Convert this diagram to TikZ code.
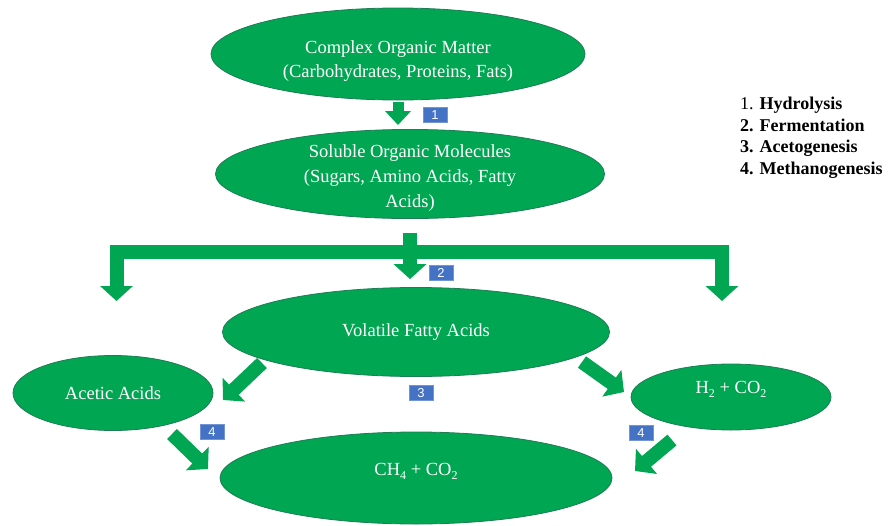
\documentclass[tikz,border=0pt]{standalone}
\usepackage{fontspec}
\setmainfont{Liberation Serif}
\newfontfamily\tagfont{Liberation Sans}
\usetikzlibrary{arrows.meta,shapes.geometric}

\definecolor{leafgreen}{RGB}{0,166,81}
\definecolor{leafedge}{RGB}{30,125,85}
\definecolor{tagblue}{RGB}{68,114,196}

\newcommand{\chemsub}[1]{\raisebox{-4pt}{\fontsize{12}{12}\selectfont #1}}

\tikzset{
  blob/.style={ellipse, fill=leafgreen, draw=leafedge, line width=0.8pt,
    text=white, align=center, inner sep=0pt,
    font=\fontsize{18.5}{24}\selectfont},
  flow/.style={leafgreen, line width=14pt,
    -{Triangle[width=32pt,length=15pt]}},
  tag/.style={fill=tagblue, draw=tagblue!75!white, text=white,
    minimum width=24pt, minimum height=15pt, inner sep=0pt,
    font=\tagfont\fontsize{13}{13}\selectfont},
}

\begin{document}
\begin{tikzpicture}[x=1pt, y=-1pt]
  \useasboundingbox (0,0) rectangle (891,525);

  % the six stages
  \node[blob, minimum width=374pt, minimum height=92pt, text height=46pt, text depth=0pt] (com) at (398,54)
    {Complex Organic Matter\\(Carbohydrates, Proteins, Fats)};
  \node[blob, minimum width=389pt, minimum height=88pt, inner ysep=-2pt,
    font=\fontsize{18.5}{25}\selectfont, text height=67pt, text depth=0pt] (sol) at (410,174)
    {Soluble Organic Molecules\\(Sugars, Amino Acids, Fatty\\Acids)};
  \node[blob, minimum width=387pt, minimum height=89pt] (vfa) at (416,332) {Volatile Fatty Acids};
  \node[blob, minimum width=200pt, minimum height=75pt] (aa) at (113,393) {Acetic Acids};
  \node[blob, minimum width=200pt, minimum height=66pt, text depth=20pt] (hyd) at (731,397)
    {H\chemsub{2} + CO\chemsub{2}};
  \node[blob, minimum width=392pt, minimum height=92pt, text depth=18pt] (meth) at (416,478)
    {CH\chemsub{4} + CO\chemsub{2}};

  % 1: hydrolysis
  \draw[flow, line width=11pt, -{Triangle[width=25pt,length=14pt]},
    shorten <=2pt, shorten >=4pt] (com.south) -- (com.south |- sol.north);
  \node[tag] (t1) at (435,115) {1};

  % 2: fermentation, split three ways
  \coordinate (fermL) at (116.5,301);
  \coordinate (fermM) at (410,252);
  \coordinate (fermR) at (722,301);
  \draw[flow, {Triangle[width=32pt,length=15pt]}-{Triangle[width=32pt,length=15pt]}]
    (fermL) |- (fermM) -| (fermR);
  \draw[flow, shorten <=14pt, shorten >=8pt] (sol.south) -- (sol.south |- vfa.north);
  \node[tag] (t2) at (441,273) {2};

  % 3: acetogenesis
  \draw[flow] ([shift={(-154,31)}]vfa.center) -- ([shift={(110,7)}]aa.center);
  \draw[flow] ([shift={(166,30)}]vfa.center) -- ([shift={(-107,-5)}]hyd.center);
  \node[tag] (t3) at (421,393) {3};

  % 4: methanogenesis
  \draw[flow] ([shift={(59,41)}]aa.center) -- ([shift={(-208,-9)}]meth.center);
  \draw[flow] ([shift={(-59,43)}]hyd.center) -- ([shift={(219,-7)}]meth.center);
  \node[tag] (t4a) at (212,432) {4};
  \node[tag] (t4b) at (641,433) {4};

  \node[anchor=north west, align=left, inner sep=0pt,
    font=\fontsize{18}{21.5}\selectfont] (steps) at (740,97)
    {1. \textbf{Hydrolysis}\\\textbf{2. Fermentation}\\
     \textbf{3. Acetogenesis}\\\textbf{4. Methanogenesis}};
\end{tikzpicture}
\end{document}
